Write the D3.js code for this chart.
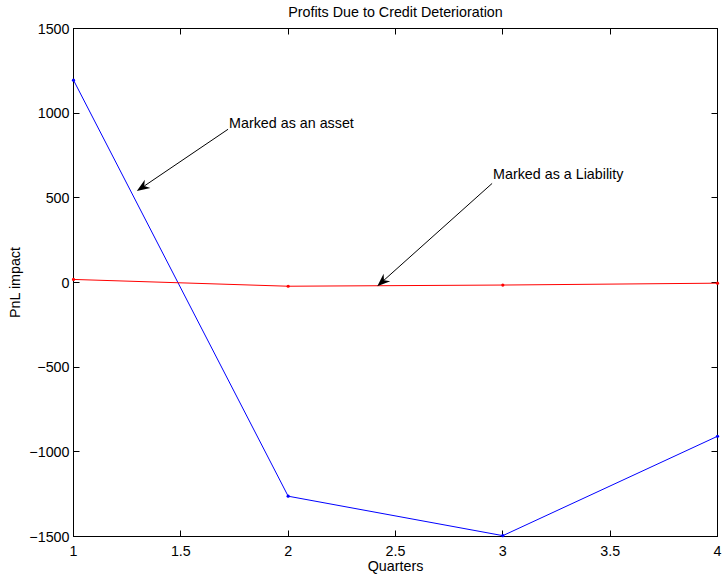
<!DOCTYPE html>
<html>
<head>
<meta charset="utf-8">
<script src="https://cdn.jsdelivr.net/npm/d3@7"></script>
<style>
  body { margin: 0; background: #fff; }
  text { font-family: "Liberation Sans", Arial, Helvetica, sans-serif; font-size: 14.3px; fill: #000; }
</style>
</head>
<body>
<svg width="724" height="575"></svg>
<script>
// data
const quarters = [1, 2, 3, 4];
const assetPnl = [1195, -1262, -1495, -908];
const liabilityPnl = [18, -22, -15, -4];

const xTicks = [1, 1.5, 2, 2.5, 3, 3.5, 4];
const yTicks = [-1500, -1000, -500, 0, 500, 1000, 1500];

// annotations: [label, text x, text y, arrow tail x, tail y, head x, head y] in data units
const notes = [
  ["Marked as an asset", 1.72, 915, 1.72, 905, 1.295, 540],
  ["Marked as a Liability", 2.95, 612, 2.95, 585, 2.415, -22]
];

const width = 724, height = 575;
const plotLeft = 73.5, plotRight = 717.5, plotTop = 28.5, plotBottom = 536.5;

let svg = d3.select("svg");

let x = d3.scaleLinear().domain([1, 4]).range([plotLeft, plotRight]);
let y = d3.scaleLinear().domain([-1500, 1500]).range([plotBottom, plotTop]);

// axis box
svg.append("rect")
  .attr("x", plotLeft).attr("y", plotTop)
  .attr("width", plotRight - plotLeft).attr("height", plotBottom - plotTop)
  .attr("fill", "none").attr("stroke", "#000").attr("stroke-width", 1);

// ticks (inward, mirrored on top and right)
const tl = 6;
let xt = svg.append("g");
xTicks.forEach(t => {
  let px = Math.round(x(t) - 0.5) + 0.5;
  xt.append("line").attr("x1", px).attr("x2", px).attr("y1", plotBottom).attr("y2", plotBottom - tl).attr("stroke", "#000");
  xt.append("line").attr("x1", px).attr("x2", px).attr("y1", plotTop).attr("y2", plotTop + tl).attr("stroke", "#000");
  xt.append("text")
    .attr("x", x(t)).attr("y", plotBottom + 19)
    .attr("text-anchor", "middle")
    .text(d3.format("")(t));
});

let yt = svg.append("g");
yTicks.forEach(t => {
  let py = Math.round(y(t) - 0.5) + 0.5;
  yt.append("line").attr("x1", plotLeft).attr("x2", plotLeft + tl).attr("y1", py).attr("y2", py).attr("stroke", "#000");
  yt.append("line").attr("x1", plotRight).attr("x2", plotRight - tl).attr("y1", py).attr("y2", py).attr("stroke", "#000");
  yt.append("text")
    .attr("x", plotLeft - 4).attr("y", y(t) + 5)
    .attr("text-anchor", "end")
    .text(t < 0 ? "\u2212" + Math.abs(t) : t);
});

// series
const series = [
  { values: assetPnl, color: "#0000ff" },
  { values: liabilityPnl, color: "#ff0000" }
];

let line = d3.line().x(d => x(d[0])).y(d => y(d[1]));

series.forEach(s => {
  let pts = quarters.map((q, i) => [q, s.values[i]]);
  svg.append("path")
    .datum(pts)
    .attr("d", line)
    .attr("fill", "none")
    .attr("stroke", s.color)
    .attr("stroke-width", 1);
  svg.append("g").selectAll("circle")
    .data(pts)
    .enter().append("circle")
    .attr("cx", d => x(d[0]))
    .attr("cy", d => y(d[1]))
    .attr("r", 1.6)
    .attr("fill", s.color);
});

// annotations with MATLAB-like arrows
notes.forEach(n => {
  let tx = x(n[3]), ty = y(n[4]);
  let hx = x(n[5]), hy = y(n[6]);
  let ang = Math.atan2(hy - ty, hx - tx);
  let len = 13, wid = 5, back = 9;
  let ux = Math.cos(ang), uy = Math.sin(ang);
  let bx = hx - ux * len, by = hy - uy * len;
  let mx = hx - ux * back, my = hy - uy * back;

  svg.append("line")
    .attr("x1", tx).attr("y1", ty)
    .attr("x2", mx).attr("y2", my)
    .attr("stroke", "#000").attr("stroke-width", 1);

  let head = [
    [hx, hy],
    [bx - uy * wid, by + ux * wid],
    [mx, my],
    [bx + uy * wid, by - ux * wid]
  ];
  svg.append("path")
    .attr("d", "M" + head.map(p => p.join(",")).join("L") + "Z")
    .attr("fill", "#000");

  svg.append("text")
    .attr("x", x(n[1]) + 1).attr("y", y(n[2]))
    .text(n[0]);
});

// titles
svg.append("text")
  .attr("x", (plotLeft + plotRight) / 2).attr("y", 17)
  .attr("text-anchor", "middle")
  .text("Profits Due to Credit Deterioration");

svg.append("text")
  .attr("x", (plotLeft + plotRight) / 2).attr("y", 571)
  .attr("text-anchor", "middle")
  .text("Quarters");

svg.append("text")
  .attr("transform", "translate(20," + ((plotTop + plotBottom) / 2) + ") rotate(-90)")
  .attr("text-anchor", "middle")
  .text("PnL impact");
</script>
</body>
</html>
